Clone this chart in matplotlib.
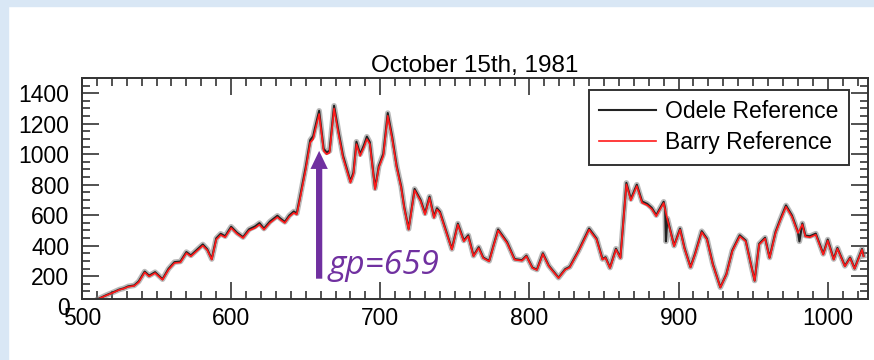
import matplotlib.pyplot as plt
from matplotlib.patches import Rectangle, FancyArrowPatch
from matplotlib.ticker import MultipleLocator

plt.rcParams['font.family'] = ['Liberation Sans', 'DejaVu Sans']

# grid point / value pairs for the two reference curves
barry_gp = [511, 516, 520, 525, 528, 531, 535, 538, 542, 545, 549, 554, 558, 562,
            566, 570, 573, 577, 581, 584, 587, 590, 593, 596, 600, 604, 608, 612,
            616, 619, 622, 626, 631, 633, 636, 639, 642, 644, 646, 650, 653, 655,
            656, 659, 662, 664, 666, 669, 672, 675, 680, 682, 684, 686.5, 689, 691,
            693, 696.5, 699, 702, 705, 708, 711, 714, 716, 719, 723, 727, 730, 733,
            736, 738, 740, 744, 748, 752, 756, 759, 762.5, 766, 769, 773, 776, 779,
            785, 790, 795, 798, 802, 805, 809, 813, 819.5, 824, 827, 833, 840, 845,
            849, 851, 854, 858, 861, 865, 868, 872, 875.5, 879, 882, 885, 890, 892.5,
            897, 901, 904, 908, 911, 915.5, 919, 923, 928, 932, 936, 941, 945, 948,
            951, 954, 958, 961, 965, 968, 972, 976, 980, 983, 985, 988, 992, 997,
            1000, 1004, 1006.5, 1011.5, 1015, 1018, 1023, 1024]
barry_val = [51, 72, 88, 110, 118, 130, 136, 160, 224, 198, 220, 176, 242, 286,
             290, 351, 330, 365, 400, 370, 308, 440, 470, 455, 516, 477, 450, 499,
             516, 538, 505, 549, 587, 570, 549, 590, 615, 604, 700, 900, 1076, 1099,
             1143, 1264, 1022, 1000, 1010, 1300, 1132, 978, 813, 868, 1066, 989, 1044, 1099,
             1066, 769, 912, 989, 1252, 1099, 912, 780, 650, 505, 763, 692, 604, 714,
             582, 637, 615, 494, 374, 538, 428, 461, 330, 384, 318, 297, 400, 499,
             417, 308, 301, 330, 253, 240, 345, 264, 187, 242, 257, 363, 505, 440,
             308, 320, 253, 374, 318, 802, 697, 791, 681, 665, 640, 593, 680, 572,
             396, 505, 380, 257, 341, 488, 440, 275, 125, 209, 363, 461, 428, 297,
             169, 407, 446, 318, 483, 560, 655, 590, 483, 539, 460, 455, 472, 341,
             433, 308, 380, 264, 318, 248, 374, 330]

odele_gp = [511, 516, 520, 525, 528, 531, 535, 538, 542, 545, 549, 554, 558, 562,
            566, 570, 573, 577, 581, 584, 587, 590, 593, 596, 600, 604, 608, 612,
            616, 619, 622, 626, 631, 633, 636, 639, 642, 644, 646, 650, 653, 655,
            656, 659, 662, 664, 666, 669, 672, 675, 680, 682, 684, 686.5, 689, 691,
            693, 696.5, 699, 702, 705, 708, 711, 714, 716, 719, 723, 727, 730, 733,
            736, 738, 740, 744, 748, 752, 756, 759, 762.5, 766, 769, 773, 776, 779,
            785, 790, 795, 798, 802, 805, 809, 813, 819.5, 824, 827, 833, 840, 845,
            849, 851, 854, 858, 861, 865, 868, 872, 875.5, 879, 882, 885, 890, 891,
            891.5, 892.5, 897, 901, 904, 908, 911, 915.5, 919, 923, 928, 932, 936,
            941, 945, 948, 951, 954, 958, 961, 965, 968, 972, 976, 980, 981, 983,
            985, 988, 992, 997, 1000, 1004, 1006.5, 1011.5, 1015, 1018, 1023, 1024]
odele_val = [51, 74, 90, 112, 120, 133, 139, 165, 230, 203, 226, 180, 248, 292,
             296, 358, 336, 372, 408, 376, 312, 448, 478, 462, 524, 484, 456, 507,
             526, 548, 512, 558, 596, 578, 556, 598, 624, 612, 710, 915, 1092, 1118,
             1162, 1285, 1036, 1012, 1022, 1318, 1148, 990, 822, 880, 1082, 1000, 1058, 1115,
             1078, 776, 922, 1002, 1270, 1112, 922, 788, 656, 510, 772, 700, 612, 722,
             590, 645, 622, 500, 378, 545, 434, 468, 334, 390, 322, 300, 405, 506,
             423, 312, 305, 334, 256, 243, 350, 268, 190, 246, 261, 368, 512, 446,
             312, 324, 256, 380, 322, 812, 706, 800, 690, 674, 648, 600, 688, 640,
             428, 578, 400, 512, 384, 260, 346, 495, 446, 278, 127, 212, 368, 468,
             434, 300, 171, 412, 452, 322, 490, 568, 664, 598, 490, 428, 546,
             466, 462, 479, 346, 440, 312, 385, 267, 322, 251, 378, 334]

fig = plt.figure(figsize=(8.74, 3.6), dpi=100)

# light blue slide border on the left and top edges
fig.patches.append(Rectangle((0, 0), 8 / 874, 1, transform=fig.transFigure,
                             color='#d9e7f5', zorder=0))
fig.patches.append(Rectangle((0, 1 - 6 / 360), 1, 6 / 360, transform=fig.transFigure,
                             color='#d9e7f5', zorder=0))

ax = fig.add_axes([82 / 874, 1 - 299 / 360, 786 / 874, 221 / 360])

ax.plot(odele_gp, odele_val, color='0.5', lw=4.0, alpha=0.55, solid_joinstyle='round')
ax.plot(odele_gp, odele_val, color='#222222', lw=1.5, label='Odele Reference')
ax.plot(barry_gp, barry_val, color='#ff1a1a', lw=1.2, label='Barry Reference')

ax.set_xlim(500, 1027)
ax.set_ylim(50, 1500)
ax.xaxis.set_major_locator(MultipleLocator(100))
ax.xaxis.set_minor_locator(MultipleLocator(10))
ax.yaxis.set_major_locator(MultipleLocator(200))
ax.yaxis.set_minor_locator(MultipleLocator(50))

ax.tick_params(which='both', direction='in', top=True, right=True,
               colors='#333333', labelcolor='black', labelsize=16.5, width=1.2)
ax.tick_params(axis='x', which='major', length=12, pad=6)
ax.tick_params(axis='x', which='minor', length=6)
ax.tick_params(axis='y', which='major', length=12, pad=9)
ax.tick_params(axis='y', which='minor', length=6)
for s in ax.spines.values():
    s.set_color('#333333')
    s.set_linewidth(1.4)

# the zero label sits below the plotted range
ax.annotate('0', xy=(0, 0), xycoords=('axes fraction', 'data'), xytext=(-9, -1),
            textcoords='offset points', ha='right', va='center', fontsize=16.5,
            annotation_clip=False)

ax.set_title('October 15th, 1981', fontsize=17.5, pad=4)

leg = ax.legend(loc='upper right', bbox_to_anchor=(0.976, 0.945), fontsize=16.5,
                handlelength=2.5, handletextpad=0.4, borderpad=0.45,
                labelspacing=0.35, borderaxespad=0, fancybox=False,
                edgecolor='#333333', framealpha=1)
leg.get_frame().set_linewidth(1.4)

arrow = FancyArrowPatch((659, 165), (659, 1040),
                        arrowstyle='simple,head_width=1.25,head_length=1.3,tail_width=0.45',
                        mutation_scale=10, color='#7030a0', lw=0, zorder=5)
ax.add_patch(arrow)
ax.text(665, 211, 'gp=659', color='#7030a0', fontsize=24, style='italic',
        family=['Open Sans', 'DejaVu Sans'], ha='left', va='baseline', zorder=5)

fig.savefig('out.png', dpi=100)
